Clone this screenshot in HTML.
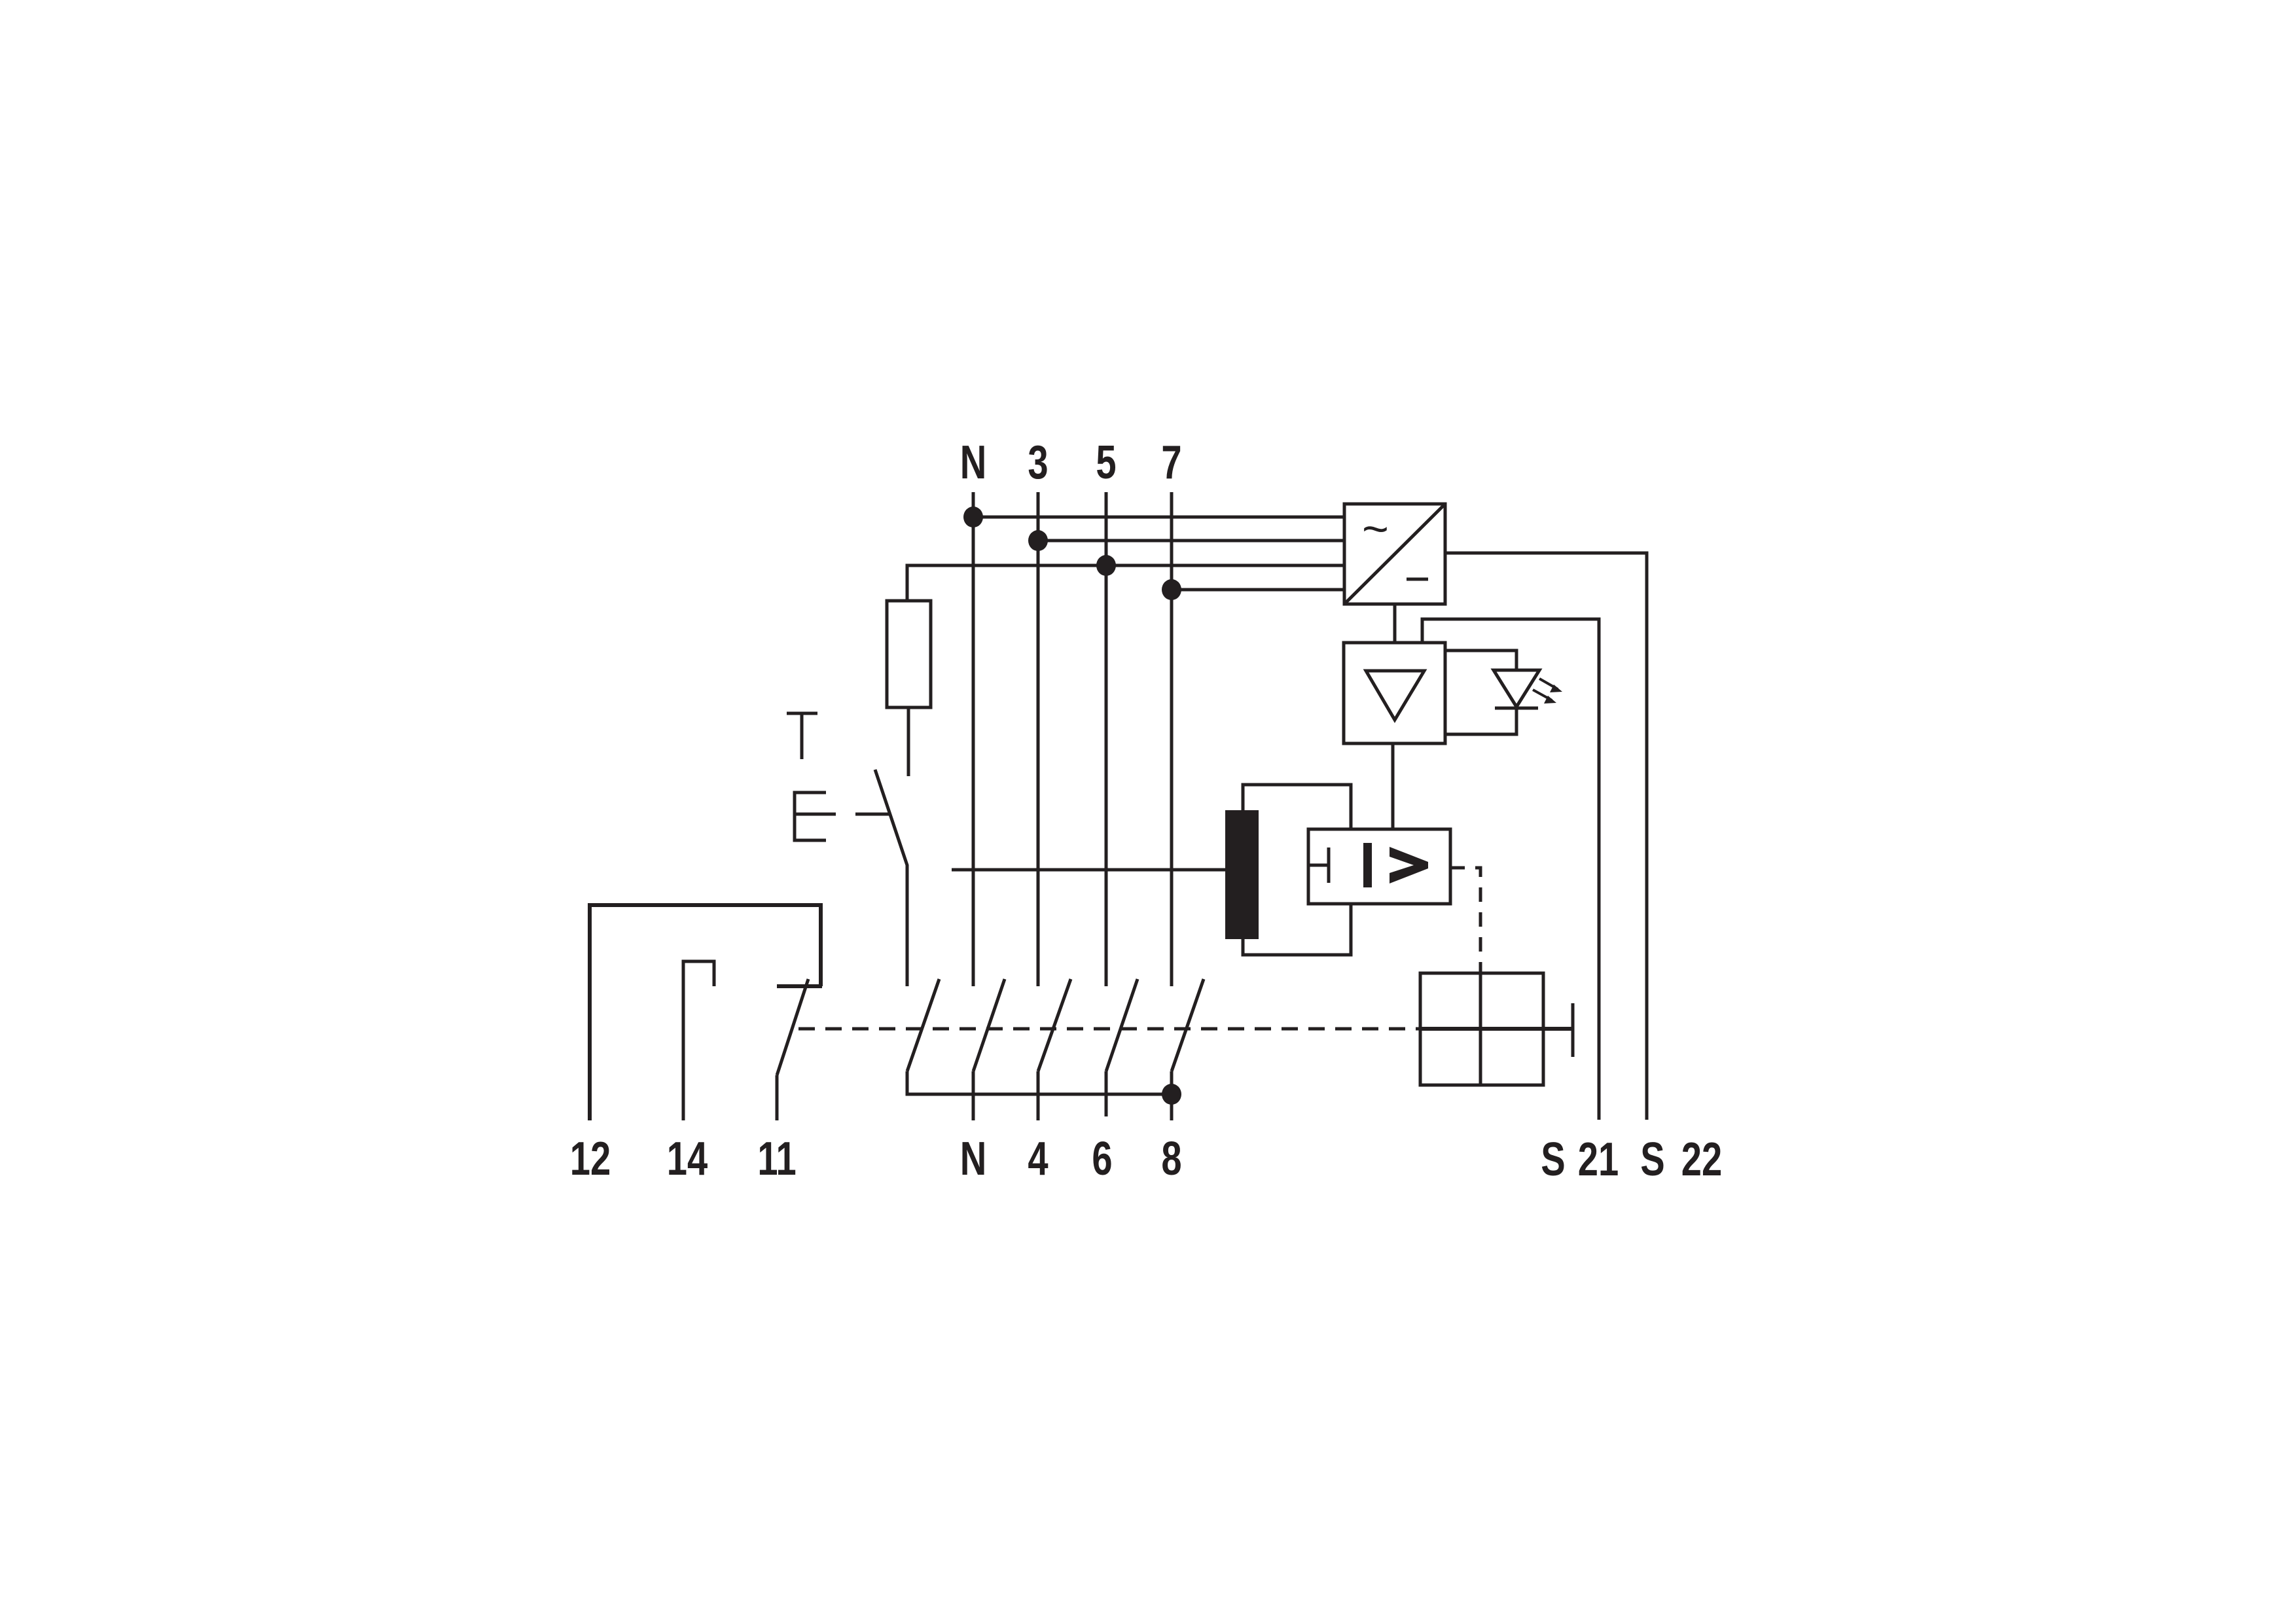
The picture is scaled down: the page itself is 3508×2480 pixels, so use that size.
<!DOCTYPE html>
<html><head><meta charset="utf-8"><style>html,body{margin:0;padding:0;background:#fff}svg{display:block}</style></head><body>
<svg width="3508" height="2480" viewBox="0 0 3508 2480" xmlns="http://www.w3.org/2000/svg">
<g stroke="#231f20" stroke-width="5" fill="none" stroke-linecap="butt">
<line x1="1487" y1="752" x2="1487" y2="1507"/>
<line x1="1586" y1="752" x2="1586" y2="1507"/>
<line x1="1690" y1="752" x2="1690" y2="1507"/>
<line x1="1790" y1="752" x2="1790" y2="1507"/>
<line x1="1487" y1="790" x2="2054" y2="790"/>
<line x1="1586" y1="826" x2="2054" y2="826"/>
<polyline points="1386,918 1386,864 2054,864"/>
<line x1="1790" y1="901" x2="2054" y2="901"/>
<rect x="1355" y="918" width="67" height="163"/>
<line x1="1388" y1="1081" x2="1388" y2="1186"/>
<line x1="1202" y1="1090" x2="1249" y2="1090"/>
<line x1="1225" y1="1090" x2="1225" y2="1160"/>
<polyline points="1262,1211 1214,1211 1214,1284 1262,1284"/>
<line x1="1214" y1="1244" x2="1277" y2="1244"/>
<line x1="1307" y1="1244" x2="1359" y2="1244"/>
<polyline points="1337,1176 1386,1322 1386,1507"/>
<line x1="1454" y1="1329" x2="1873" y2="1329"/>
<line x1="1435" y1="1496" x2="1386" y2="1637"/>
<polyline points="1386,1637 1386,1672 1790,1672"/>
<line x1="1535" y1="1496" x2="1487" y2="1637"/>
<line x1="1487" y1="1637" x2="1487" y2="1712"/>
<line x1="1636" y1="1496" x2="1586" y2="1637"/>
<line x1="1586" y1="1637" x2="1586" y2="1712"/>
<line x1="1738" y1="1496" x2="1690" y2="1637"/>
<line x1="1690" y1="1637" x2="1690" y2="1706"/>
<line x1="1839" y1="1496" x2="1790" y2="1637"/>
<line x1="1790" y1="1637" x2="1790" y2="1712"/>
<polyline points="901,1712 901,1383 1254,1383 1254,1507" stroke-width="6"/>
<line x1="1187" y1="1507" x2="1256" y2="1507" stroke-width="6"/>
<line x1="1235" y1="1496" x2="1187" y2="1643"/>
<line x1="1187" y1="1643" x2="1187" y2="1712"/>
<polyline points="1044,1712 1044,1469 1091,1469 1091,1507"/>
<line x1="1220" y1="1572" x2="2170" y2="1572" stroke-dasharray="25,16"/>
<rect x="2054" y="770" width="154" height="153"/>
<line x1="2054" y1="923" x2="2208" y2="770"/>
<line x1="2149" y1="885" x2="2182" y2="885"/>
<polyline points="2208,845 2516,845 2516,1711"/>
<line x1="2131" y1="923" x2="2131" y2="982"/>
<rect x="2053" y="982" width="155" height="154"/>
<polygon points="2087,1025 2176,1025 2131,1100"/>
<polyline points="2173,982 2173,946 2443,946 2443,1711"/>
<polyline points="2208,994 2317,994 2317,1024"/>
<polygon points="2282,1024 2352,1024 2317,1080"/>
<line x1="2284" y1="1082" x2="2350" y2="1082"/>
<polyline points="2317,1082 2317,1122 2208,1122"/>
<line x1="2352" y1="1037" x2="2380" y2="1053" stroke-width="4"/>
<line x1="2342" y1="1054" x2="2371" y2="1070" stroke-width="4"/>
<line x1="2128" y1="1136" x2="2128" y2="1267"/>
<polyline points="1899,1238 1899,1199 2064,1199 2064,1267"/>
<polyline points="1899,1435 1899,1459 2064,1459 2064,1381"/>
<rect x="1999" y="1267" width="217" height="114"/>
<line x1="1999" y1="1322" x2="2030" y2="1322"/>
<line x1="2030" y1="1295" x2="2030" y2="1349"/>
<polyline points="2216,1326 2262,1326 2262,1488" stroke-dasharray="22,16"/>
<rect x="2170" y="1487" width="188" height="171"/>
<line x1="2262" y1="1487" x2="2262" y2="1658"/>
<line x1="2170" y1="1572" x2="2403" y2="1572" stroke-width="6"/>
<line x1="2403" y1="1533" x2="2403" y2="1615"/>
</g>
<g fill="#231f20">
<ellipse cx="1487" cy="790" rx="15" ry="16"/>
<ellipse cx="1586" cy="826" rx="15" ry="16"/>
<ellipse cx="1690" cy="864" rx="15" ry="16"/>
<ellipse cx="1790" cy="901" rx="15" ry="16"/>
<ellipse cx="1790" cy="1672" rx="15" ry="16"/>
<rect x="1872" y="1238" width="51" height="197"/>
<rect x="2083" y="1288" width="13" height="68"/>
<polygon points="2123,1294 2182,1317 2182,1327 2123,1350 2123,1334 2160,1322 2123,1309"/>
<polygon points="2387,1057 2368,1058 2374,1046"/>
<polygon points="2378,1074 2359,1075 2365,1063"/>
<text x="2081" y="832" font-family="Liberation Sans, sans-serif" font-size="70">~</text>
</g>
<g fill="#231f20" font-family="'Liberation Sans Narrow','Liberation Sans',sans-serif" font-weight="bold" font-size="72" text-anchor="middle">
<text transform="translate(1487,731) scale(0.78,1)">N</text>
<text transform="translate(1586,731) scale(0.78,1)">3</text>
<text transform="translate(1690,731) scale(0.78,1)">5</text>
<text transform="translate(1790,731) scale(0.78,1)">7</text>
<text transform="translate(902,1795) scale(0.78,1)">12</text>
<text transform="translate(1050,1795) scale(0.78,1)">14</text>
<text transform="translate(1187,1795) scale(0.78,1)">11</text>
<text transform="translate(1487,1795) scale(0.78,1)">N</text>
<text transform="translate(1586,1795) scale(0.78,1)">4</text>
<text transform="translate(1684,1795) scale(0.78,1)">6</text>
<text transform="translate(1790,1795) scale(0.78,1)">8</text>
<text transform="translate(2373,1796) scale(0.78,1)">S</text>
<text transform="translate(2442,1796) scale(0.78,1)">21</text>
<text transform="translate(2525,1796) scale(0.78,1)">S</text>
<text transform="translate(2600,1796) scale(0.78,1)">22</text>
</g>
</svg>
</body></html>
